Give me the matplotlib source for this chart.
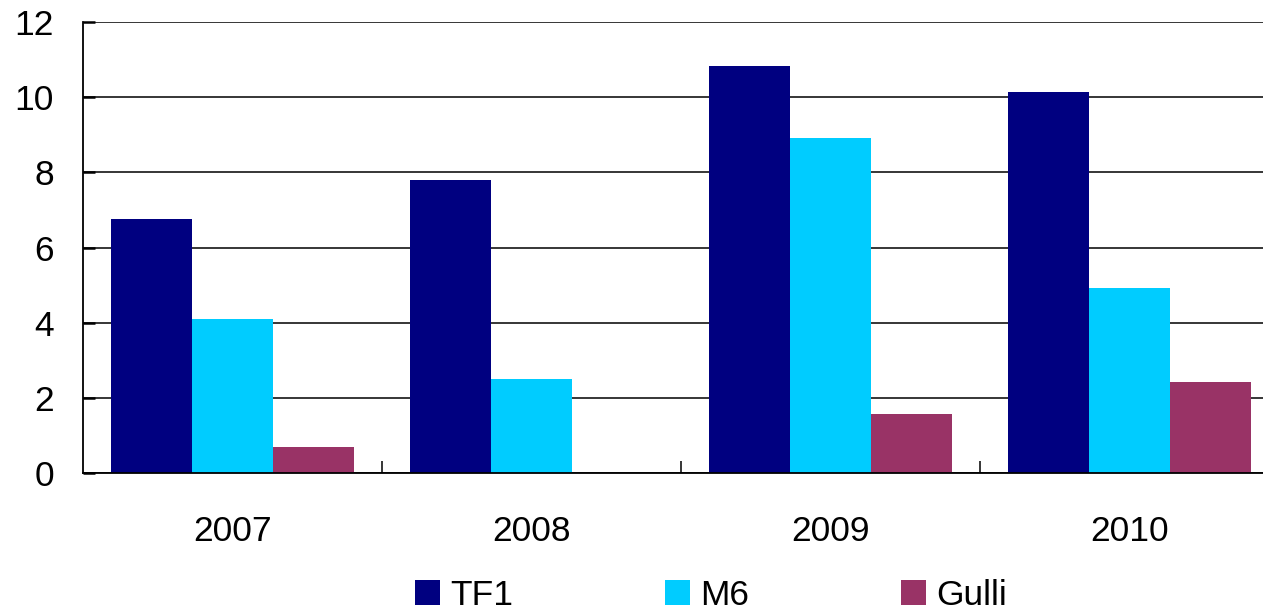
import matplotlib.pyplot as plt
import numpy as np
from matplotlib.patches import Patch

years = ["2007", "2008", "2009", "2010"]
tf1 = [6.75, 7.80, 10.82, 10.15]
m6 = [4.10, 2.51, 8.92, 4.93]
gulli = [0.69, 0.0, 1.57, 2.43]

series = [("TF1", tf1, "#000080"), ("M6", m6, "#00CCFF"), ("Gulli", gulli, "#993366")]

plt.rcParams["font.family"] = ["Liberation Sans", "DejaVu Sans"]

fig = plt.figure(figsize=(12.63, 6.16), dpi=100)
ax = fig.add_axes([83 / 1263, 143 / 616, 1196 / 1263, 451 / 616])

x = np.arange(len(years))
width = 0.27
for i, (name, vals, color) in enumerate(series):
    ax.bar(x + (i - 1) * width, vals, width, color=color, label=name, zorder=3)

ax.set_xlim(-0.5, len(years) - 0.5)
ax.set_ylim(0, 12)
ax.set_yticks(range(0, 13, 2))
ax.yaxis.grid(True, color="black", linewidth=1.1, zorder=0)
ax.set_axisbelow(True)

ax.set_xticks(x)
ax.set_xticklabels(years)
ax.set_xticks(x[:-1] + 0.5, minor=True)
ax.tick_params(axis="x", which="major", length=0, pad=30, labelsize=25.5)
ax.tick_params(axis="x", which="minor", direction="in", length=8.5, width=1.1)
ax.tick_params(axis="y", direction="in", length=8.5, width=1.8, pad=21, labelsize=25.5)

for side in ("top", "right"):
    ax.spines[side].set_visible(False)
for side in ("left", "bottom"):
    ax.spines[side].set_linewidth(1.3)
    ax.spines[side].set_zorder(4)

# legend sits at the very bottom, nudged up just enough to keep text inside
handles = [Patch(facecolor=c, label=n) for n, _, c in series]
fig.legend(handles=handles, loc="center", bbox_to_anchor=(0.563, 0.034), ncol=3,
           frameon=False, fontsize=25.5, handlelength=0.7, handleheight=0.7,
           handletextpad=0.28, columnspacing=4.3, borderpad=0, borderaxespad=0)

fig.savefig("out.png", dpi=100)
